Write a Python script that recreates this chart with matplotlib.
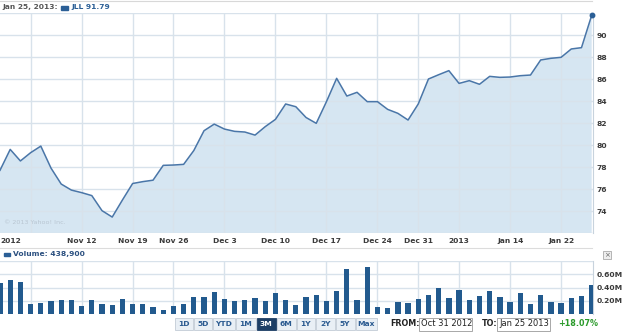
import matplotlib
matplotlib.use("Agg")
import matplotlib.pyplot as plt
from matplotlib.patches import Rectangle

# ---------------- data ----------------
dates = ["Oct 31", "Nov 1", "Nov 2", "Nov 5", "Nov 6", "Nov 7", "Nov 8", "Nov 9",
         "Nov 12", "Nov 13", "Nov 14", "Nov 15", "Nov 16", "Nov 19", "Nov 20", "Nov 21",
         "Nov 23", "Nov 26", "Nov 27", "Nov 28", "Nov 29", "Nov 30", "Dec 3", "Dec 4",
         "Dec 5", "Dec 6", "Dec 7", "Dec 10", "Dec 11", "Dec 12", "Dec 13", "Dec 14",
         "Dec 17", "Dec 18", "Dec 19", "Dec 20", "Dec 21", "Dec 24", "Dec 26", "Dec 27",
         "Dec 28", "Dec 31", "Jan 2", "Jan 3", "Jan 4", "Jan 7", "Jan 8", "Jan 9",
         "Jan 10", "Jan 11", "Jan 14", "Jan 15", "Jan 16", "Jan 17", "Jan 18", "Jan 22",
         "Jan 23", "Jan 24", "Jan 25"]

close = [77.7, 79.6, 78.55, 79.3, 79.9, 77.9, 76.45, 75.9, 75.67, 75.4,
         74.03, 73.45, 75.0, 76.5, 76.67, 76.8, 78.15, 78.18, 78.24, 79.5,
         81.3, 81.9, 81.45, 81.24, 81.18, 80.9, 81.67, 82.33, 83.73, 83.48,
         82.5, 81.97, 83.94, 86.06, 84.45, 84.79, 83.94, 83.94, 83.24, 82.88,
         82.27, 83.73, 86.0, 86.39, 86.76, 85.6, 85.85, 85.52, 86.24, 86.15,
         86.18, 86.3, 86.36, 87.73, 87.88, 87.97, 88.73, 88.85, 91.79]

volume_m = [0.47, 0.51, 0.48, 0.147, 0.166, 0.19, 0.215, 0.215, 0.12, 0.215,
            0.156, 0.13, 0.23, 0.147, 0.147, 0.107, 0.054, 0.12, 0.147, 0.26,
            0.25, 0.33, 0.23, 0.19, 0.205, 0.245, 0.19, 0.32, 0.215, 0.13,
            0.26, 0.29, 0.19, 0.34, 0.68, 0.205, 0.71, 0.113, 0.098, 0.18,
            0.17, 0.23, 0.29, 0.40, 0.24, 0.366, 0.205, 0.27, 0.34, 0.26,
            0.18, 0.32, 0.146, 0.29, 0.18, 0.16, 0.245, 0.27, 0.4389]

week_ticks = ["Nov 5", "Nov 12", "Nov 19", "Nov 26", "Dec 3", "Dec 10", "Dec 17",
              "Dec 24", "Dec 31", "Jan 7", "Jan 14", "Jan 22"]
week_labels = ["", "Nov 12", "Nov 19", "Nov 26", "Dec 3", "Dec 10", "Dec 17",
               "Dec 24", "Dec 31", "2013", "Jan 14", "Jan 22"]
price_ticks = [74, 76, 78, 80, 82, 84, 86, 88, 90]
volume_ticks = [0.2, 0.4, 0.6]
volume_tick_labels = ["0.20M", "0.40M", "0.60M"]
range_buttons = ["1D", "5D", "YTD", "1M", "3M", "6M", "1Y", "2Y", "5Y", "Max"]
active_button = "3M"
from_date = "Oct 31 2012"
to_date = "Jan 25 2013"
change_pct = "+18.07%"

# ---------------- figure ----------------
W, H = 625, 333
fig = plt.figure(figsize=(W / 100, H / 100), dpi=100)
fig.patch.set_facecolor("white")

def fx(px):
    return px / W

def fy(py):
    return 1 - py / H

LINE = "#4a76a8"
FILL = "#d6e6f2"
GRID = "#d8e2eb"
BAR = "#225a8e"
TXT = "#3a3a3a"
FS = 5.4

x = list(range(len(dates)))
tick_pos = [dates.index(d) for d in week_ticks]
xmax = len(dates) - 1 + 0.1

# ---- price axes ----
ax = fig.add_axes([0, fy(233), fx(592.7), (233 - 13) / H])
ax.fill_between(x, close, 0, color=FILL, lw=0, zorder=1)
ax.plot(x, close, color=LINE, lw=1.1, zorder=3)
ax.plot([x[-1]], [close[-1]], "o", color="#2b5f96", ms=3.2, zorder=4, clip_on=False)
ax.set_xlim(0, xmax)
ax.set_ylim(72, 92)
ax.set_yticks(list(range(72, 93, 2)))
ax.yaxis.tick_right()
ax.set_yticklabels([str(v) if v in price_ticks else "" for v in range(72, 93, 2)],
                   fontsize=FS, fontweight="bold", color=TXT)
ax.set_xticks(tick_pos)
ax.set_xticklabels(week_labels, fontsize=FS, fontweight="bold", color=TXT)
ax.tick_params(length=0, pad=3.5)
ax.tick_params(axis="y", pad=3)
ax.grid(True, color=GRID, lw=1.0, zorder=2)
ax.set_axisbelow(False)
for s in ["left", "top", "bottom"]:
    ax.spines[s].set_visible(False)
ax.spines["right"].set_color("#c8d3dd")
ax.spines["right"].set_linewidth(0.8)
ax.text(0.0, -0.022, "2012", transform=ax.transAxes, ha="left", va="top",
        fontsize=FS, fontweight="bold", color=TXT)
ax.text(0.006, 0.035, "\u00a9 2013 Yahoo! Inc.", transform=ax.transAxes, ha="left",
        va="bottom", fontsize=4.6, color="#b9c6d2", zorder=5)

# ---- volume axes ----
axv = fig.add_axes([0, fy(314), fx(592.7), (314 - 261) / H])
axv.bar(x, volume_m, width=0.52, color=BAR, zorder=3)
axv.set_xlim(0, xmax)
axv.set_ylim(0, 0.8)
axv.set_yticks([0.2, 0.4, 0.6, 0.8])
axv.yaxis.tick_right()
axv.set_yticklabels(volume_tick_labels + [""], fontsize=FS, fontweight="bold", color=TXT)
axv.set_xticks(tick_pos)
axv.set_xticklabels([])
axv.tick_params(length=0, pad=3)
axv.grid(True, color=GRID, lw=1.0, zorder=1)
for s in ["left", "top", "bottom"]:
    axv.spines[s].set_visible(False)
axv.spines["right"].set_color("#c8d3dd")
axv.spines["right"].set_linewidth(0.8)

# ---- header texts ----
fig.text(fx(2), fy(7.5), "Jan 25, 2013:", ha="left", va="center", fontsize=FS,
         fontweight="bold", color="#555555")
fig.patches.append(Rectangle((fx(61), fy(9.5)), fx(7), 3 / H, transform=fig.transFigure,
                             color="#2b5f96", figure=fig))
fig.text(fx(71), fy(7.5), "JLL 91.79", ha="left", va="center", fontsize=FS,
         fontweight="bold", color="#2b5f96")

# separators
fig.add_artist(plt.Line2D([0, fx(592)], [fy(0.5), fy(0.5)], color="#d8d8d8", lw=0.8))
fig.add_artist(plt.Line2D([0, fx(592)], [fy(247.5), fy(247.5)], color="#dcdcdc", lw=0.8))

fig.patches.append(Rectangle((fx(4), fy(255.5)), fx(6), 3 / H, transform=fig.transFigure,
                             color="#2b5f96", figure=fig))
fig.text(fx(13), fy(254), "Volume: 438,900", ha="left", va="center", fontsize=FS,
         fontweight="bold", color="#2b5080")

# close box
fig.patches.append(Rectangle((fx(603), fy(259)), fx(8), 8 / H, transform=fig.transFigure,
                             facecolor="#eeeeee", edgecolor="#aaaaaa", lw=0.6, figure=fig))
fig.text(fx(607), fy(255), "\u00d7", ha="center", va="center", fontsize=5, color="#666666")

# ---- buttons ----
btn_edges = [174, 193.5, 212.5, 235, 256, 276, 296, 315.5, 335, 355, 377]
for i, lab in enumerate(range_buttons):
    x0, x1 = btn_edges[i], btn_edges[i + 1]
    active = lab == active_button
    fig.patches.append(Rectangle((fx(x0 + 0.5), fy(330)), fx(x1 - x0 - 1), 12.5 / H,
                                 transform=fig.transFigure,
                                 facecolor="#1d3f66" if active else "#e9eff5",
                                 edgecolor="#1d3f66" if active else "#c3ccd6",
                                 lw=0.6, figure=fig))
    fig.text(fx((x0 + x1) / 2), fy(324), lab, ha="center", va="center", fontsize=FS,
             fontweight="bold", color="white" if active else "#2a5a90")

fig.text(fx(390.5), fy(324), "FROM:", ha="left", va="center", fontsize=FS + 0.4,
         fontweight="bold", color="#222222")
fig.patches.append(Rectangle((fx(419), fy(330.5)), fx(52.5), 13 / H, transform=fig.transFigure,
                             facecolor="white", edgecolor="#9a9a9a", lw=0.6, figure=fig))
fig.text(fx(421), fy(324), from_date, ha="left", va="center", fontsize=FS + 0.6,
         color="#222222")
fig.text(fx(482), fy(324), "TO:", ha="left", va="center", fontsize=FS + 0.4,
         fontweight="bold", color="#222222")
fig.patches.append(Rectangle((fx(497), fy(330.5)), fx(52.5), 13 / H, transform=fig.transFigure,
                             facecolor="white", edgecolor="#9a9a9a", lw=0.6, figure=fig))
fig.text(fx(499), fy(324), to_date, ha="left", va="center", fontsize=FS + 0.6,
         color="#222222")
fig.text(fx(558), fy(324), change_pct, ha="left", va="center", fontsize=FS + 0.4,
         fontweight="bold", color="#2a9a2a")

fig.savefig("out.png", dpi=100, facecolor="white")
